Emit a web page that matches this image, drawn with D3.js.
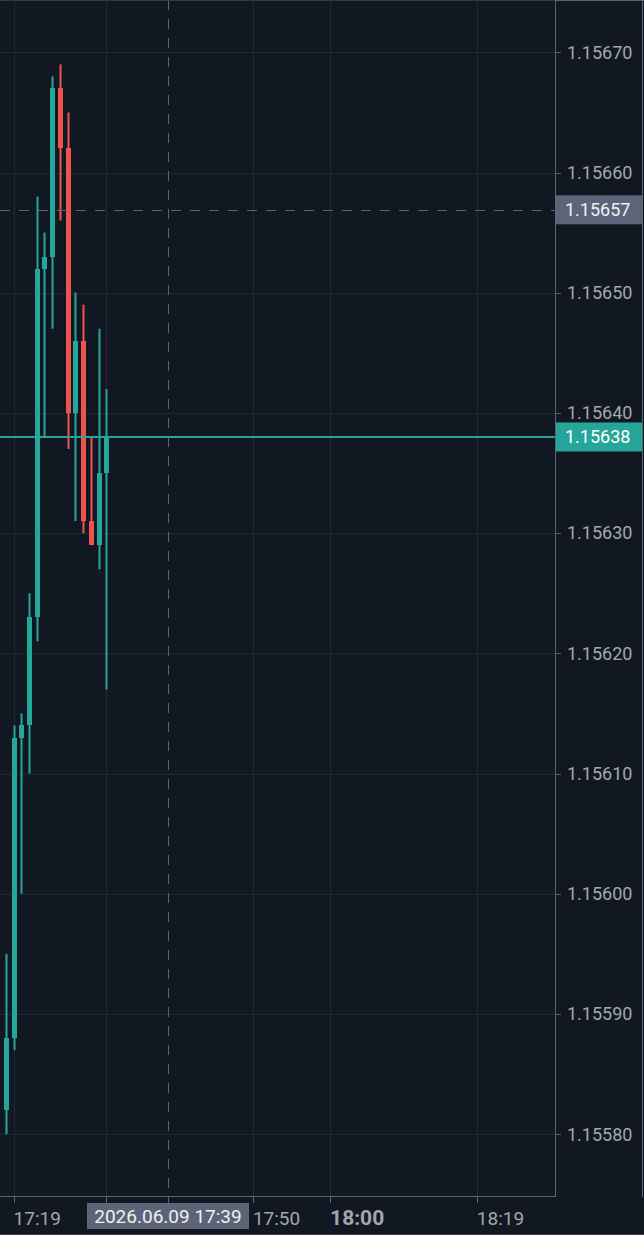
<!DOCTYPE html>
<html>
<head>
<meta charset="utf-8">
<script src="https://cdn.jsdelivr.net/npm/d3@7"></script>
<style>
  html, body { margin:0; padding:0; background:#121821; }
  svg { display:block; }
  text { font-family: Roboto, "Liberation Sans", sans-serif; }
</style>
</head>
<body>
<svg id="chart" width="644" height="1235"></svg>
<script>
/* data: 1 minute candles */
var times  = ["17:18","17:19","17:20","17:21","17:22","17:23","17:24","17:25","17:26","17:27","17:28","17:29","17:30","17:31"];
var opens  = [1.15582,1.15588,1.15613,1.15614,1.15623,1.15652,1.15653,1.15667,1.15662,1.15640,1.15646,1.15631,1.15629,1.15635];
var highs  = [1.15595,1.15614,1.15615,1.15625,1.15658,1.15655,1.15668,1.15669,1.15665,1.15650,1.15649,1.15638,1.15647,1.15642];
var lows   = [1.15580,1.15587,1.15600,1.15610,1.15621,1.15638,1.15647,1.15656,1.15637,1.15631,1.15630,1.15629,1.15627,1.15617];
var closes = [1.15588,1.15613,1.15614,1.15623,1.15652,1.15653,1.15667,1.15662,1.15640,1.15646,1.15631,1.15629,1.15635,1.15638];

var priceTicks = [1.15580,1.15590,1.15600,1.15610,1.15620,1.15630,1.15640,1.15650,1.15660,1.15670];
var timeTicks  = ["17:19","17:31","17:50","18:00","18:19"];
var timeLabels = ["17:19","17:50","18:00","18:19"];   // 17:31 sits under the crosshair label
var boldTicks  = ["18:00"];

var lastPrice = 1.15638;
var crossTime = "17:39", crossDate = "2026.06.09", crossPrice = 1.156569;

var up = "#26a69a", down = "#ef5350", bg = "#121821", grid = "#222833";

var svg = d3.select("#chart"),
    W = +svg.attr("width"),
    H = +svg.attr("height"),
    plotW = 556, plotH = 1197;

function mins(s){ var p = s.split(":"); return (+p[0])*60 + (+p[1]); }

var x = d3.scaleLinear()
    .domain([mins("17:19"), mins("18:19")])
    .range([13.6, 476.8]);
var y = d3.scaleLinear()
    .domain([1.15580, 1.15670])
    .range([1134.2, 52.3]);

function snap(v){ return Math.round(v) + 0.5; }

svg.append("rect").attr("width", W).attr("height", H).attr("fill", bg);

// grid
svg.append("g").attr("shape-rendering", "crispEdges").selectAll("line")
  .data(priceTicks)
  .enter().append("line")
    .attr("x1", 0).attr("x2", plotW)
    .attr("y1", function(d){ return snap(y(d)); })
    .attr("y2", function(d){ return snap(y(d)); })
    .attr("stroke", grid);
svg.append("g").attr("shape-rendering", "crispEdges").selectAll("line")
  .data(timeTicks)
  .enter().append("line")
    .attr("x1", function(d){ return snap(x(mins(d))); })
    .attr("x2", function(d){ return snap(x(mins(d))); })
    .attr("y1", 0).attr("y2", plotH)
    .attr("stroke", grid);

// candles
var candles = times.map(function(t, i){
  return {t: mins(t), o: opens[i], h: highs[i], l: lows[i], c: closes[i]};
});
var cg = svg.append("g");
cg.selectAll("line")
  .data(candles)
  .enter().append("line")
    .attr("x1", function(d){ return Math.round(x(d.t)) + 0.5; })
    .attr("x2", function(d){ return Math.round(x(d.t)) + 0.5; })
    .attr("y1", function(d){ return y(d.h); })
    .attr("y2", function(d){ return y(d.l); })
    .attr("stroke-width", 2)
    .attr("stroke", function(d){ return d.c >= d.o ? up : down; });
cg.selectAll("rect")
  .data(candles)
  .enter().append("rect")
    .attr("shape-rendering", "crispEdges")
    .attr("x", function(d){ return Math.round(x(d.t)) - 2; })
    .attr("width", 5)
    .attr("y", function(d){ return y(Math.max(d.o, d.c)); })
    .attr("height", function(d){ return Math.max(1, Math.abs(y(d.o) - y(d.c))); })
    .attr("fill", function(d){ return d.c >= d.o ? up : down; });

// last price line
svg.append("line")
    .attr("x1", 0).attr("x2", plotW)
    .attr("y1", Math.round(y(lastPrice))).attr("y2", Math.round(y(lastPrice)))
    .attr("stroke-width", 2)
    .attr("stroke", up);

// crosshair
svg.append("line")
    .attr("x1", snap(x(mins(crossTime)))).attr("x2", snap(x(mins(crossTime))))
    .attr("y1", 0).attr("y2", plotH)
    .attr("stroke", "#5d6270").attr("stroke-dasharray", "10,9");
svg.append("line")
    .attr("x1", 0).attr("x2", plotW)
    .attr("y1", snap(y(crossPrice))).attr("y2", snap(y(crossPrice)))
    .attr("stroke", "#5d6270").attr("stroke-dasharray", "10,9");

// axis area
svg.append("rect").attr("x", plotW).attr("y", 0).attr("width", W - plotW).attr("height", H).attr("fill", bg);
svg.append("rect").attr("x", 0).attr("y", plotH).attr("width", W).attr("height", H - plotH).attr("fill", bg);

// borders
svg.append("line").attr("x1", 0).attr("x2", plotW).attr("y1", 0.5).attr("y2", 0.5).attr("stroke", "#363b47");
svg.append("line").attr("x1", plotW).attr("x2", W).attr("y1", 0.5).attr("y2", 0.5).attr("stroke", "#5d6270");
svg.append("line").attr("x1", plotW - 0.5).attr("x2", plotW - 0.5).attr("y1", 0).attr("y2", plotH).attr("stroke", "#5d6270");
svg.append("line").attr("x1", 0).attr("x2", plotW).attr("y1", plotH - 0.5).attr("y2", plotH - 0.5).attr("stroke", "#5d6270");
svg.append("line").attr("x1", W - 1.5).attr("x2", W - 1.5).attr("y1", 0).attr("y2", plotH).attr("stroke", "#5d6270");
svg.append("line").attr("x1", 0).attr("x2", W).attr("y1", H - 0.5).attr("y2", H - 0.5).attr("stroke", "#3a3f4b");

// price axis
var pa = svg.append("g");
pa.selectAll("line")
  .data(priceTicks)
  .enter().append("line")
    .attr("x1", plotW).attr("x2", plotW + 5)
    .attr("y1", function(d){ return snap(y(d)); })
    .attr("y2", function(d){ return snap(y(d)); })
    .attr("stroke", "#5d6270");
pa.selectAll("text")
  .data(priceTicks)
  .enter().append("text")
    .attr("x", plotW + 11)
    .attr("y", function(d){ return y(d); })
    .attr("dy", "0.35em")
    .attr("font-size", 18)
    .attr("fill", "#a3a6af")
    .text(function(d){ return d.toFixed(5); });

// time axis
var ta = svg.append("g");
ta.selectAll("line")
  .data(timeTicks)
  .enter().append("line")
    .attr("x1", function(d){ return snap(x(mins(d))); })
    .attr("x2", function(d){ return snap(x(mins(d))); })
    .attr("y1", plotH).attr("y2", plotH + 6)
    .attr("stroke", "#5d6270");
ta.selectAll("text")
  .data(timeLabels)
  .enter().append("text")
    .attr("x", function(d){ return x(mins(d)); })
    .attr("y", 1225)
    .attr("font-size", function(d){ return boldTicks.indexOf(d) >= 0 ? 21 : 19; })
    .attr("font-weight", function(d){ return boldTicks.indexOf(d) >= 0 ? "bold" : "normal"; })
    .attr("fill", "#a3a6af")
    .text(function(d){ return d; });

// labels: crosshair price, last price, crosshair time
function priceLabel(v, fill, color){
  svg.append("rect")
    .attr("x", plotW).attr("y", y(v) - 14.5)
    .attr("width", 86).attr("height", 29)
    .attr("fill", fill);
  svg.append("text")
    .attr("x", plotW + 9).attr("y", y(v))
    .attr("dy", "0.35em")
    .attr("font-size", 18)
    .attr("fill", color)
    .text(v.toFixed(5));
}
priceLabel(crossPrice, "#5d6477", "#eef0f4");
priceLabel(lastPrice, up, "#ffffff");

var cx = x(mins(crossTime));
svg.append("line")
    .attr("x1", snap(cx)).attr("x2", snap(cx))
    .attr("y1", plotH).attr("y2", plotH + 6)
    .attr("stroke", "#5d6270");
svg.append("rect")
    .attr("x", 87).attr("y", 1203)
    .attr("width", 162).attr("height", 26)
    .attr("fill", "#5d6477");
svg.append("text")
    .attr("x", 168).attr("y", 1216)
    .attr("dy", "0.35em")
    .attr("text-anchor", "middle")
    .attr("font-size", 19)
    .attr("fill", "#eef0f4")
    .text(crossDate + " " + crossTime);
</script>
</body>
</html>
